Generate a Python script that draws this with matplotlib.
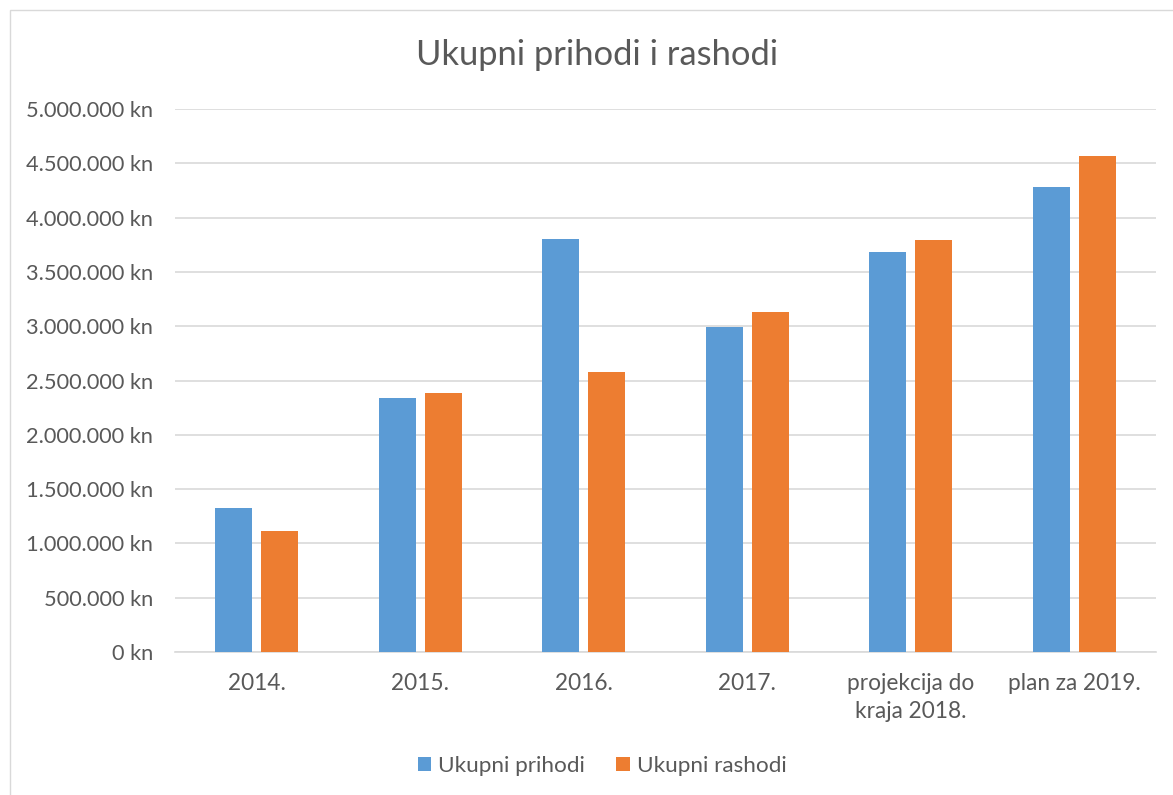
import matplotlib
matplotlib.use("Agg")
import matplotlib.pyplot as plt
import numpy as np
from matplotlib.patches import Rectangle

categories = ["2014.", "2015.", "2016.", "2017.", "projekcija do\nkraja 2018.", "plan za 2019."]
prihodi = [1327000, 2339000, 3803000, 2995000, 3686000, 4279000]
rashodi = [1117000, 2382000, 2575000, 3131000, 3794000, 4567000]
series_names = ["Ukupni prihodi", "Ukupni rashodi"]
tick_values = [0, 500000, 1000000, 1500000, 2000000, 2500000, 3000000, 3500000, 4000000, 4500000, 5000000]
tick_labels = ["0 kn", "500.000 kn", "1.000.000 kn", "1.500.000 kn", "2.000.000 kn", "2.500.000 kn",
               "3.000.000 kn", "3.500.000 kn", "4.000.000 kn", "4.500.000 kn", "5.000.000 kn"]
title = "Ukupni prihodi i rashodi"

BLUE = "#5B9BD5"
ORANGE = "#ED7D31"
TEXT = "#595959"
GRID = "#D9D9D9"
FONT = "Lato"

W, H = 1173, 795
fig = plt.figure(figsize=(W / 100, H / 100), dpi=100)
plt.rcParams["font.family"] = [FONT, "DejaVu Sans"]

# chart border
fig.patches.append(Rectangle((10 / W, -0.1), 1.2, (H - 10) / H + 0.1, transform=fig.transFigure,
                             fill=False, edgecolor="#D9D9D9", linewidth=1.0))

ax = fig.add_axes([175 / W, (H - 652) / H, (1156 - 175) / W, (652 - 109) / H])
x = np.arange(len(categories))
bw = 0.225
off = 0.141
ax.bar(x - off, prihodi, bw, color=BLUE, label=series_names[0], zorder=3)
ax.bar(x + off, rashodi, bw, color=ORANGE, label=series_names[1], zorder=3)

ax.set_xlim(-0.5, len(categories) - 0.5)
ax.set_ylim(0, 5000000)
ax.set_yticks(tick_values)
ax.set_yticklabels(tick_labels)
ax.set_xticks(x)
ax.set_xticklabels(categories, linespacing=1.45)
ax.tick_params(axis="y", length=0, pad=16, labelsize=15.7, labelcolor=TEXT)
ax.tick_params(axis="x", length=0, pad=15, labelsize=16.3, labelcolor=TEXT)
ax.grid(axis="y", color=GRID, linewidth=1.2, zorder=0)
for s in ["top", "right", "left"]:
    ax.spines[s].set_visible(False)
ax.spines["bottom"].set_color(GRID)
ax.spines["bottom"].set_linewidth(1.2)

fig.text(597 / W, (H - 55) / H, title, ha="center", va="center", fontsize=24.8, color=TEXT)

leg = fig.legend(loc="center", bbox_to_anchor=(602 / W, (H - 766) / H), ncol=2, frameon=False,
                 fontsize=16.2, handlelength=0.6, handleheight=0.6, handletextpad=0.3,
                 columnspacing=1.4, labelcolor=TEXT)

fig.savefig("out.png", dpi=100)
